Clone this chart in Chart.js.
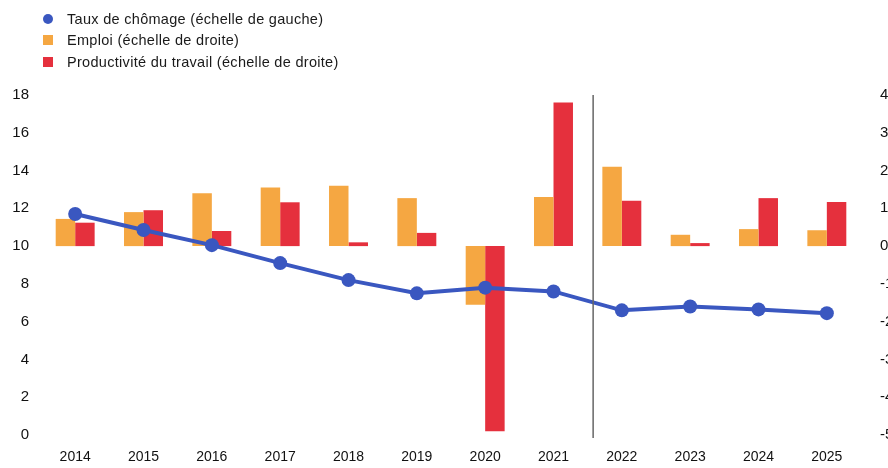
<!DOCTYPE html>
<html lang="fr">
<head>
<meta charset="utf-8">
<script src="https://cdn.jsdelivr.net/npm/chart.js@4.4.1/dist/chart.umd.min.js"></script>
<style>
  html, body { margin: 0; padding: 0; background: #fff; overflow: hidden; width: 888px; height: 468px; }
  #wrap { position: absolute; left: 0; top: 0; width: 900px; height: 468px; }
  #legend { position: absolute; left: 43px; top: 8px; font-family: "Liberation Sans", Arial, sans-serif; font-size: 14.5px; letter-spacing: 0.3px; color: #1a1a1a; }
  .item { height: 21.5px; display: flex; align-items: center; }
  .mk { width: 10px; height: 10px; margin-right: 14px; }
</style>
</head>
<body>
<div id="wrap"><canvas id="chart" width="900" height="468"></canvas></div>
<div id="legend">
  <div class="item"><span class="mk" style="background:#3a57c0;border-radius:50%"></span>Taux de chômage (échelle de gauche)</div>
  <div class="item"><span class="mk" style="background:#f5a742"></span>Emploi (échelle de droite)</div>
  <div class="item"><span class="mk" style="background:#e5303d"></span>Productivité du travail (échelle de droite)</div>
</div>
<script>
// Data
const years = ['2014', '2015', '2016', '2017', '2018', '2019', '2020', '2021', '2022', '2023', '2024', '2025'];
const chomage = [11.7, 10.85, 10.05, 9.1, 8.2, 7.5, 7.8, 7.6, 6.6, 6.8, 6.65, 6.45];
const emploi = [0.72, 0.9, 1.4, 1.55, 1.6, 1.27, -1.55, 1.3, 2.1, 0.3, 0.45, 0.42];
const productivite = [0.62, 0.95, 0.4, 1.16, 0.1, 0.35, -4.9, 3.8, 1.2, 0.08, 1.27, 1.17];

const colors = {
  blue: '#3a57c0',
  orange: '#f5a742',
  red: '#e5303d',
  text: '#111'
};

const yFont = { family: '"Liberation Sans", Arial, sans-serif', size: 15 };
const xFont = { family: '"Liberation Sans", Arial, sans-serif', size: 14 };

// vertical separator between actual and projected years (sits a bit right of the midpoint)
const separatorLine = {
  id: 'separatorLine',
  afterDatasetsDraw(chart) {
    const x = chart.scales.x;
    const a = x.getPixelForValue(7);
    const b = x.getPixelForValue(8);
    const px = a + (b - a) * 0.58;
    const ctx = chart.ctx;
    ctx.save();
    ctx.strokeStyle = '#666';
    ctx.lineWidth = 1.5;
    ctx.beginPath();
    ctx.moveTo(px, chart.chartArea.top);
    ctx.lineTo(px, chart.chartArea.bottom + 3);
    ctx.stroke();
    ctx.restore();
  }
};

new Chart(document.getElementById('chart'), {
  type: 'bar',
  data: {
    labels: years,
    datasets: [
      {
        type: 'line',
        label: 'Taux de chômage (échelle de gauche)',
        data: chomage,
        yAxisID: 'y',
        borderColor: colors.blue,
        backgroundColor: colors.blue,
        borderWidth: 4,
        pointRadius: 7,
        pointBorderWidth: 0,
        tension: 0,
        order: 0
      },
      {
        label: 'Emploi (échelle de droite)',
        data: emploi,
        yAxisID: 'y2',
        backgroundColor: colors.orange,
        categoryPercentage: 0.57,
        barPercentage: 1,
        order: 1
      },
      {
        label: 'Productivité du travail (échelle de droite)',
        data: productivite,
        yAxisID: 'y2',
        backgroundColor: colors.red,
        categoryPercentage: 0.57,
        barPercentage: 1,
        order: 1
      }
    ]
  },
  options: {
    responsive: false,
    animation: false,
    layout: { padding: { top: 95, left: 0, right: 0, bottom: 0 } },
    plugins: {
      legend: { display: false },
      tooltip: { enabled: false }
    },
    scales: {
      x: {
        grid: { display: false, drawTicks: false },
        border: { display: false },
        ticks: { color: colors.text, font: xFont, padding: 14, maxRotation: 0 },
        afterFit(scale) { scale.height = 33; }
      },
      y: {
        position: 'left',
        min: 0,
        max: 18,
        grid: { display: false, drawTicks: false },
        border: { display: false },
        ticks: { stepSize: 2, color: colors.text, font: yFont, padding: 12 },
        afterFit(scale) { scale.width = 41; }
      },
      y2: {
        position: 'right',
        min: -5,
        max: 4,
        grid: { display: false, drawTicks: false },
        border: { display: false },
        ticks: { stepSize: 1, color: colors.text, font: yFont, padding: 19 },
        afterFit(scale) { scale.width = 39; }
      }
    }
  },
  plugins: [separatorLine]
});
</script>
</body>
</html>
